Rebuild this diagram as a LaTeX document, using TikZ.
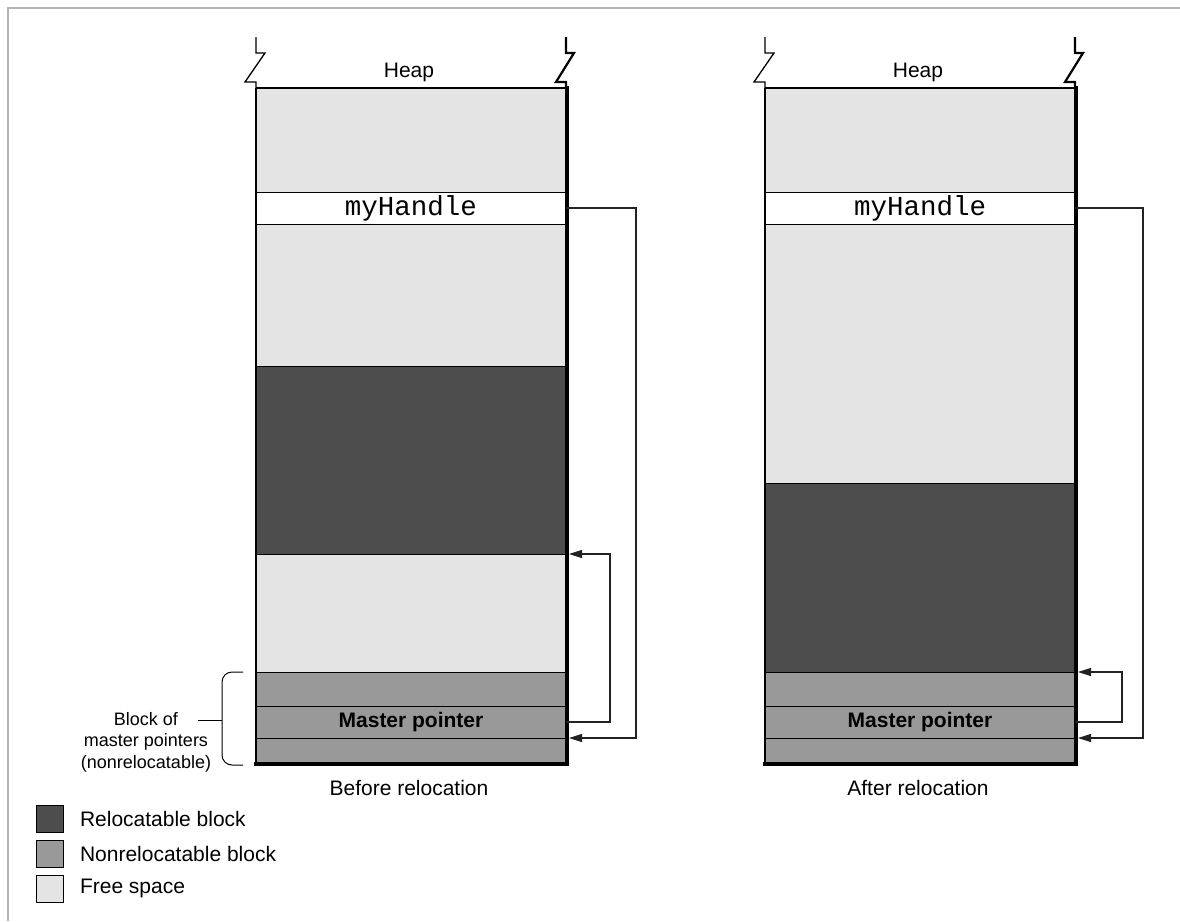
\documentclass[tikz,border=0pt]{standalone}
\usepackage{fontspec}
\setmainfont{Liberation Sans}
\setmonofont{Liberation Mono}
\usetikzlibrary{arrows.meta}
\definecolor{freec}{HTML}{E4E4E4}
\definecolor{nonrelc}{HTML}{999999}
\definecolor{relc}{HTML}{4D4D4D}
\definecolor{framec}{HTML}{B4B4B4}
\definecolor{linec}{HTML}{222222}
\begin{document}
\begin{tikzpicture}[x=1pt,y=-1pt,
  lbl/.style={font=\fontsize{21}{22}\selectfont, inner sep=0pt, outer sep=0pt},
  sidelbl/.style={font=\fontsize{18}{21.5}\selectfont, inner sep=0pt, outer sep=0pt},
  blk/.style={draw=black, line width=1pt, minimum width=310pt, inner sep=0pt, outer sep=0pt, anchor=north},
  freeblk/.style={blk, fill=freec},
  nonrelblk/.style={blk, fill=nonrelc},
  relblk/.style={blk, fill=relc},
  handleblk/.style={blk, fill=white, font=\fontsize{27.5}{27.5}\ttfamily},
  masterblk/.style={blk, fill=nonrelc, font=\fontsize{21}{22}\selectfont\bfseries},
  ptr/.style={draw=linec, line width=1.1pt, -{Triangle[length=13pt,width=8pt]}},
  zig/.style={draw=black, line width=1.3pt, line join=miter},
  zigthick/.style={draw=black, line width=2.2pt, line join=miter},
  legbox/.style={draw=black, line width=0.9pt, minimum width=27pt, minimum height=27pt, inner sep=0pt}
]
\useasboundingbox (0,0) rectangle (1180,921);
\fill[white] (0,0) rectangle (1180,921);
% frame
\draw[framec, line width=2pt] (8,921) -- (8,8) -- (1180,8);

% ---------- left heap ----------
\node[freeblk, minimum height=104pt] (L1) at (411,88) {};
\node[handleblk, minimum height=32pt] (L2) at (411,192) {myHandle};
\node[freeblk, minimum height=142pt] (L3) at (411,224) {};
\node[relblk, minimum height=188pt] (L4) at (411,366) {};
\node[freeblk, minimum height=118pt] (L5) at (411,554) {};
\node[nonrelblk, minimum height=34pt] (L6) at (411,672) {};
\node[masterblk, minimum height=32pt] (L7) at (411,706) {Master pointer};
\node[nonrelblk, minimum height=27pt] (L8) at (411,738) {};
\draw[line width=1.5pt] (L1.north west) -- (L8.south west);
\draw[line width=1.5pt] (L1.north west) -- (L1.north east);
\draw[line width=4pt, line cap=rect] ([xshift=1pt]L1.north east) -- ([shift={(1pt,1pt)}]L8.south east) -- ([yshift=1pt]L8.south west);
\draw[zig] ([shift={(0,-51)}]L1.north west) -- ++(0,16) -- ++(9,0) -- ++(-20,29) -- ++(11,0) -- (L1.north west);
\draw[zigthick] ([shift={(0,-51)}]L1.north east) -- ++(0,16) -- ++(8,0) -- ++(-18,29) -- ++(10,0) -- (L1.north east);
\node[lbl] (H1) at (409,72) {Heap};
\node[lbl] (C1) at (409,788) {Before relocation};

\draw[ptr] (L2.east) -- ++(70,0) |- ([xshift=3pt]L8.north east);
\draw[ptr] (L7.east) -- ++(44,0) |- ([xshift=3pt]L5.north east);

% brace and label
\coordinate (btop) at (243,672);
\coordinate (bbot) at (243,765);
\coordinate (btip) at (222,720);
\coordinate (btick) at (198,720);
\draw[line width=1pt, rounded corners=10pt] (btop) -- (222,672) -- (222,765) -- (bbot);
\draw[line width=1pt] (btip) -- (btick);
\node[sidelbl, align=center] (btxt) at (146,742) {Block of\\master pointers\\(nonrelocatable)};

% ---------- right heap ----------
\node[freeblk, minimum height=104pt] (R1) at (920,88) {};
\node[handleblk, minimum height=32pt] (R2) at (920,192) {myHandle};
\node[freeblk, minimum height=259pt] (R3) at (920,224) {};
\node[relblk, minimum height=189pt] (R4) at (920,483) {};
\node[nonrelblk, minimum height=34pt] (R5) at (920,672) {};
\node[masterblk, minimum height=32pt] (R6) at (920,706) {Master pointer};
\node[nonrelblk, minimum height=27pt] (R7) at (920,738) {};
\draw[line width=1.5pt] (R1.north west) -- (R7.south west);
\draw[line width=1.5pt] (R1.north west) -- (R1.north east);
\draw[line width=4pt, line cap=rect] ([xshift=1pt]R1.north east) -- ([shift={(1pt,1pt)}]R7.south east) -- ([yshift=1pt]R7.south west);
\draw[zig] ([shift={(0,-51)}]R1.north west) -- ++(0,16) -- ++(9,0) -- ++(-20,29) -- ++(11,0) -- (R1.north west);
\draw[zigthick] ([shift={(0,-51)}]R1.north east) -- ++(0,16) -- ++(8,0) -- ++(-18,29) -- ++(10,0) -- (R1.north east);
\node[lbl] (H2) at (918,72) {Heap};
\node[lbl] (C2) at (918,788) {After relocation};

\draw[ptr] (R2.east) -- ++(68,0) |- ([xshift=3pt]R7.north east);
\draw[ptr] (R6.east) -- ++(47,0) |- ([xshift=3pt]R5.north east);

% ---------- legend ----------
\node[legbox, fill=relc] (K1) at (49.5,818.5) {};
\node[legbox, fill=nonrelc] (K2) at (49.5,853.5) {};
\node[legbox, fill=freec] (K3) at (49.5,888.5) {};
\node[lbl, anchor=west] (T1) at (80,818.5) {Relocatable block};
\node[lbl, anchor=west] (T2) at (80,853.5) {Nonrelocatable block};
\node[lbl, anchor=west] (T3) at (80,888.5) {Free space};
\end{tikzpicture}
\end{document}
